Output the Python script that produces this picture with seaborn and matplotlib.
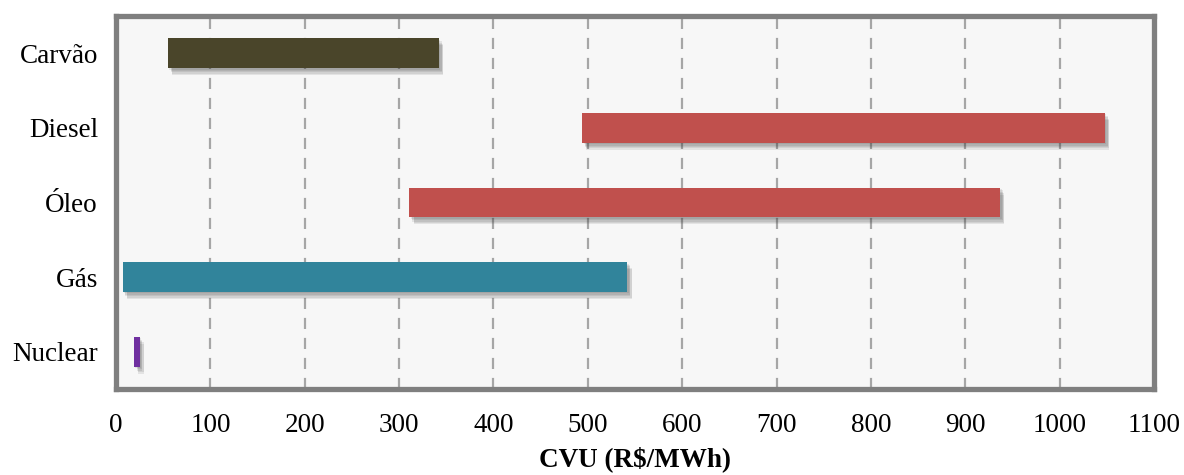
import matplotlib
matplotlib.use("Agg")
import matplotlib.pyplot as plt
import matplotlib.patheffects as pe
import seaborn as sns
import pandas as pd

# CVU ranges per source (R$/MWh)
fontes = ["Carvão", "Diesel", "Óleo", "Gás", "Nuclear"]
cvu_min = [55, 494, 311, 7, 19]
cvu_max = [342, 1048, 937, 542, 25]
cores = ["#4a452a", "#c0504d", "#c0504d", "#31849b", "#7030a0"]
x_ticks = [0, 100, 200, 300, 400, 500, 600, 700, 800, 900, 1000, 1100]

df = pd.DataFrame({"fonte": fontes, "min": cvu_min, "max": cvu_max})
df["faixa"] = df["max"] - df["min"]

sns.set_theme(style="white")
plt.rcParams["font.family"] = ["Liberation Serif", "DejaVu Serif"]
plt.rcParams["text.color"] = "black"
plt.rcParams["xtick.color"] = "black"
plt.rcParams["ytick.color"] = "black"
plt.rcParams["axes.labelcolor"] = "black"

fig = plt.figure(figsize=(11.84, 4.75), dpi=100)
ax = fig.add_axes([116 / 1184, 1 - 389 / 475, (1154 - 116) / 1184, (389 - 16) / 475])
ax.set_facecolor("#f7f7f7")

sns.barplot(data=df, x="faixa", y="fonte", hue="fonte", palette=cores,
            order=fontes, hue_order=fontes, orient="h", width=0.4,
            saturation=1, linewidth=0, edgecolor="none",
            legend=False, ax=ax, zorder=3)

# soft drop shadow built from a few offset layers
sombra = [pe.SimplePatchShadow(offset=(dx, -dy), alpha=0.10, shadow_rgbFace="#333333")
          for dx, dy in [(1, 1), (2, 2), (2, 3), (3, 4), (3, 5)]]

# shift each bar so it starts at the minimum CVU of its range
for patch, inicio in zip(ax.patches, df["min"]):
    patch.set_x(inicio)
    patch.set_path_effects(sombra + [pe.Normal()])

ax.set_xlim(0, 1100)
ax.set_ylim(4.5, -0.5)
ax.set_xticks(x_ticks)
ax.set_xticklabels([str(t) for t in x_ticks], fontsize=19.5)
ax.tick_params(axis="x", length=0, pad=17)
ax.tick_params(axis="y", length=0, pad=13, labelsize=19.5)
ax.set_ylabel("")
ax.set_xlabel("CVU (R$/MWh)", fontsize=19.5, fontweight="bold", labelpad=6)

ax.grid(axis="x", color="#a6a6a6", linestyle=(0, (5, 4)), linewidth=1.6, zorder=1)
ax.set_axisbelow(True)
for s in ax.spines.values():
    s.set_visible(True)
    s.set_color("#7f7f7f")
    s.set_linewidth(3.8)

fig.savefig("out.png", dpi=100, facecolor="white")
